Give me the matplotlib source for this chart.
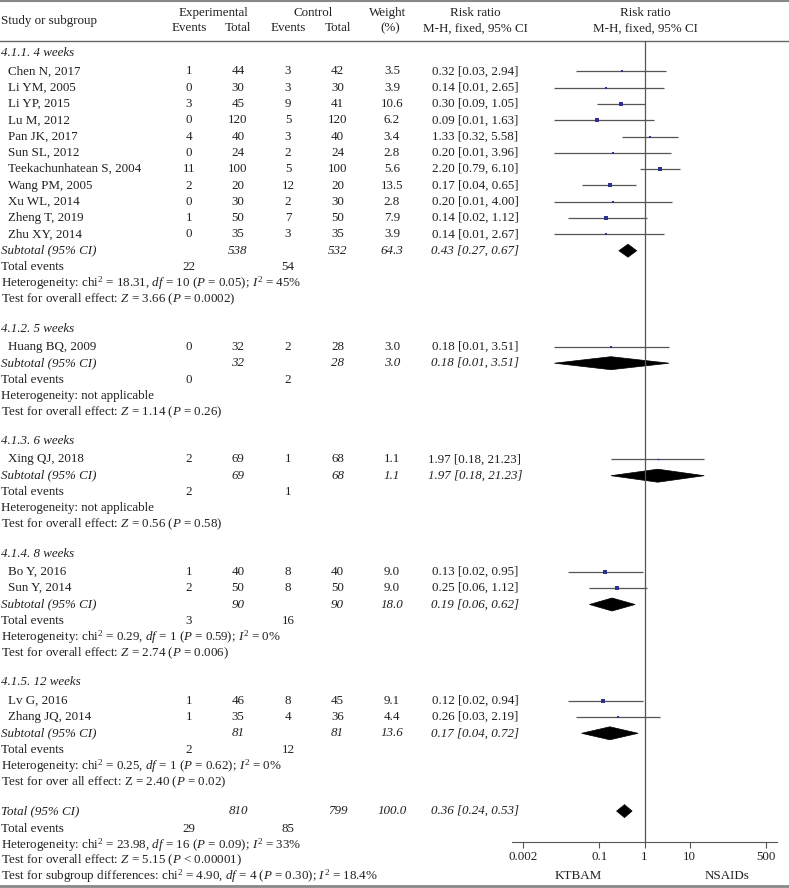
import numpy as np
import matplotlib.pyplot as plt
import matplotlib.transforms as mtransforms
from matplotlib.patches import Polygon

plt.rcParams["font.family"] = "Liberation Serif"
plt.rcParams["mathtext.fontset"] = "custom"
plt.rcParams["mathtext.rm"] = "Liberation Serif"
plt.rcParams["mathtext.it"] = "Liberation Serif:italic"
plt.rcParams["font.size"] = 9.4

# ---- data ----
group_names = ["4.1.1. 4 weeks", "4.1.2. 5 weeks", "4.1.3. 6 weeks",
               "4.1.4. 8 weeks", "4.1.5. 12 weeks"]
study_names = ["Chen N, 2017", "Li YM, 2005", "Li YP, 2015", "Lu M, 2012",
               "Pan JK, 2017", "Sun SL, 2012", "Teekachunhatean S, 2004",
               "Wang PM, 2005", "Xu WL, 2014", "Zheng T, 2019", "Zhu XY, 2014",
               "Huang BQ, 2009", "Xing QJ, 2018", "Bo Y, 2016", "Sun Y, 2014",
               "Lv G, 2016", "Zhang JQ, 2014"]
study_group = [0] * 11 + [1, 2, 3, 3, 4, 4]
exp_events = [1, 0, 3, 0, 4, 0, 11, 2, 0, 1, 0, 0, 2, 1, 2, 1, 1]
exp_total = [44, 30, 45, 120, 40, 24, 100, 20, 30, 50, 35, 32, 69, 40, 50, 46, 35]
ctl_events = [3, 3, 9, 5, 3, 2, 5, 12, 2, 7, 3, 2, 1, 8, 8, 8, 4]
ctl_total = [42, 30, 41, 120, 40, 24, 100, 20, 30, 50, 35, 28, 68, 40, 50, 45, 36]
weight = [3.5, 3.9, 10.6, 6.2, 3.4, 2.8, 5.6, 13.5, 2.8, 7.9, 3.9, 3.0, 1.1, 9.0, 9.0, 9.1, 4.4]
rr = [0.32, 0.14, 0.30, 0.09, 1.33, 0.20, 2.20, 0.17, 0.20, 0.14, 0.14, 0.18, 1.97, 0.13, 0.25, 0.12, 0.26]
rr_lo = [0.03, 0.01, 0.09, 0.01, 0.32, 0.01, 0.79, 0.04, 0.01, 0.02, 0.01, 0.01, 0.18, 0.02, 0.06, 0.02, 0.03]
rr_hi = [2.94, 2.65, 1.05, 1.63, 5.58, 3.96, 6.10, 0.65, 4.00, 1.12, 2.67, 3.51, 21.23, 0.95, 1.12, 0.94, 2.19]

sub_exp_total = [538, 32, 69, 90, 81]
sub_ctl_total = [532, 28, 68, 90, 81]
sub_weight = [64.3, 3.0, 1.1, 18.0, 13.6]
sub_rr = [0.43, 0.18, 1.97, 0.19, 0.17]
sub_lo = [0.27, 0.01, 0.18, 0.06, 0.04]
sub_hi = [0.67, 3.51, 21.23, 0.62, 0.72]
sub_exp_events = [22, 0, 2, 3, 2]
sub_ctl_events = [54, 2, 1, 16, 12]
sub_het = [r"Heterogeneity: chi$^2$ = 18.31, $df$ = 10 ($P$ = 0.05); $I^2$ = 45%",
           "Heterogeneity: not applicable",
           "Heterogeneity: not applicable",
           r"Heterogeneity: chi$^2$ = 0.29, $df$ = 1 ($P$ = 0.59); $I^2$ = 0%",
           r"Heterogeneity: chi$^2$ = 0.25, $df$ = 1 ($P$ = 0.62); $I^2$ = 0%"]
sub_test = [r"Test for overall effect: $Z$ = 3.66 ($P$ = 0.0002)",
            r"Test for overall effect: $Z$ = 1.14 ($P$ = 0.26)",
            r"Test for overall effect: $Z$ = 0.56 ($P$ = 0.58)",
            r"Test for overall effect: $Z$ = 2.74 ($P$ = 0.006)",
            r"Test for over all effect: Z = 2.40 ($P$ = 0.02)"]

tot_exp_total, tot_ctl_total, tot_weight = 810, 799, 100.0
tot_rr, tot_lo, tot_hi = 0.36, 0.24, 0.53
tot_exp_events, tot_ctl_events = 29, 85
tot_lines = [r"Heterogeneity: chi$^2$ = 23.98, $df$ = 16 ($P$ = 0.09); $I^2$ = 33%",
             r"Test for overall effect: $Z$ = 5.15 ($P$ < 0.00001)",
             r"Test for subgroup differences: chi$^2$ = 4.90, $df$ = 4 ($P$ = 0.30); $I^2$ = 18.4%"]

xticks = [0.002, 0.1, 1, 10, 500]
xticklabels = ["0.002", "0.1", "1", "10", "500"]
favours = ["KTBAM", "NSAIDs"]

# ---- layout (pixel units) ----
W, H = 789, 888
TXT = "#231f20"
LINE = "#555555"
NAVY = "#2e3192"
step, head_gap, blank_gap = 16.3, 18.4, 28.9
col_ev, col_tot, col_cev, col_ctot, col_w, col_rr = 189, 238, 288, 337.5, 392, 475

fig = plt.figure(figsize=(W / 100, H / 100), dpi=100)
tx = fig.add_axes([0, 0, 1, 1])
tx.set_xlim(0, W)
tx.set_ylim(H, 0)
tx.axis("off")

ax_left, ax_right, ax_top, ax_bot = 511.7, 777.3, 40.7, 842.3
ax = fig.add_axes([ax_left / W, (H - ax_bot) / H, (ax_right - ax_left) / W, (ax_bot - ax_top) / H])
ax.set_xscale("log")
ax.set_xlim(10 ** -2.95, 10 ** 2.95)
ax.set_ylim(ax_bot, ax_top)
ax.patch.set_alpha(0)
for s in ["top", "left", "right"]:
    ax.spines[s].set_visible(False)
ax.spines["bottom"].set_color(LINE)
ax.set_yticks([])
ax.set_xticks(xticks)
ax.set_xticklabels(xticklabels)
ax.minorticks_off()
ax.tick_params(axis="x", length=4, width=0.8, color=LINE, pad=2, labelcolor=TXT, labelsize=9.4)
ax.axvline(1, color=LINE, lw=0.9)
fav_tr = mtransforms.blended_transform_factory(ax.transData, tx.transData)
ax.text(10 ** -1.48, 876, favours[0], transform=fav_tr, ha="center", va="center", color=TXT)
ax.text(10 ** 1.83, 876, favours[1], transform=fav_tr, ha="center", va="center", color=TXT)


def t(x, y, s, ha="left", italic=False):
    tx.text(x, y, s, ha=ha, va="center", color=TXT, style="italic" if italic else "normal")


def diamond(y, c, lo, hi, h=6.5):
    ax.add_patch(Polygon([(lo, y), (c, y - h), (hi, y), (c, y + h)], closed=True,
                         facecolor="black", edgecolor="black", lw=0.5))


# header
tx.plot([0, W], [1, 1], color="#888888", lw=1.5)
tx.plot([0, W], [ax_top, ax_top], color="#666666", lw=1.0)
tx.plot([0, W], [886, 886], color="#888888", lw=2.0)
t(1, 20.7, "Study or subgroup")
t((col_ev + col_tot) / 2, 13.3, "Experimental", "center")
t((col_cev + col_ctot) / 2, 13.3, "Control", "center")
for x, s in [(col_ev, "Events"), (col_tot, "Total"), (col_cev, "Events"), (col_ctot, "Total")]:
    t(x, 28.3, s, "center")
t(388, 13.3, "Weight", "center")
t(390, 28.3, "(%)", "center")
t(col_rr, 13.3, "Risk ratio", "center")
t(col_rr, 28.3, "M-H, fixed, 95% CI", "center")
t(645, 13.3, "Risk ratio", "center")
t(645, 28.3, "M-H, fixed, 95% CI", "center")

y = 53.0
for g, gname in enumerate(group_names):
    t(1, y, gname, italic=True)
    y += head_gap
    idx = [i for i, sg in enumerate(study_group) if sg == g]
    for k, i in enumerate(idx):
        if k > 0:
            y += step
        t(8, y, study_names[i])
        t(col_ev, y, str(exp_events[i]), "center")
        t(col_tot, y, str(exp_total[i]), "center")
        t(col_cev, y, str(ctl_events[i]), "center")
        t(col_ctot, y, str(ctl_total[i]), "center")
        t(col_w, y, f"{weight[i]:.1f}", "center")
        t(col_rr, y, f"{rr[i]:.2f} [{rr_lo[i]:.2f}, {rr_hi[i]:.2f}]", "center")
        ax.hlines(y, rr_lo[i], rr_hi[i], color=LINE, lw=0.9)
        ax.plot(rr[i], y, marker="s", ls="none", color=NAVY,
                ms=0.95 * np.sqrt(weight[i]), mec=NAVY, mew=0)
    y += step
    t(1, y, "Subtotal (95% CI)", italic=True)
    t(col_tot, y, str(sub_exp_total[g]), "center", True)
    t(col_ctot, y, str(sub_ctl_total[g]), "center", True)
    t(col_w, y, f"{sub_weight[g]:.1f}", "center", True)
    t(col_rr, y, f"{sub_rr[g]:.2f} [{sub_lo[g]:.2f}, {sub_hi[g]:.2f}]", "center", True)
    diamond(y, sub_rr[g], sub_lo[g], sub_hi[g])
    y += step
    t(1, y, "Total events")
    t(col_ev, y, str(sub_exp_events[g]), "center")
    t(col_cev, y, str(sub_ctl_events[g]), "center")
    y += step
    t(1, y, sub_het[g])
    y += step
    t(1, y, sub_test[g])
    y += blank_gap

t(1, y, "Total (95% CI)", italic=True)
t(col_tot, y, str(tot_exp_total), "center", True)
t(col_ctot, y, str(tot_ctl_total), "center", True)
t(col_w, y, f"{tot_weight:.1f}", "center", True)
t(col_rr, y, f"{tot_rr:.2f} [{tot_lo:.2f}, {tot_hi:.2f}]", "center", True)
diamond(y, tot_rr, tot_lo, tot_hi)
y += head_gap
t(1, y, "Total events")
t(col_ev, y, str(tot_exp_events), "center")
t(col_cev, y, str(tot_ctl_events), "center")
for line in tot_lines:
    y += 15.6
    t(1, y, line)

fig.savefig("out.png", dpi=100)
